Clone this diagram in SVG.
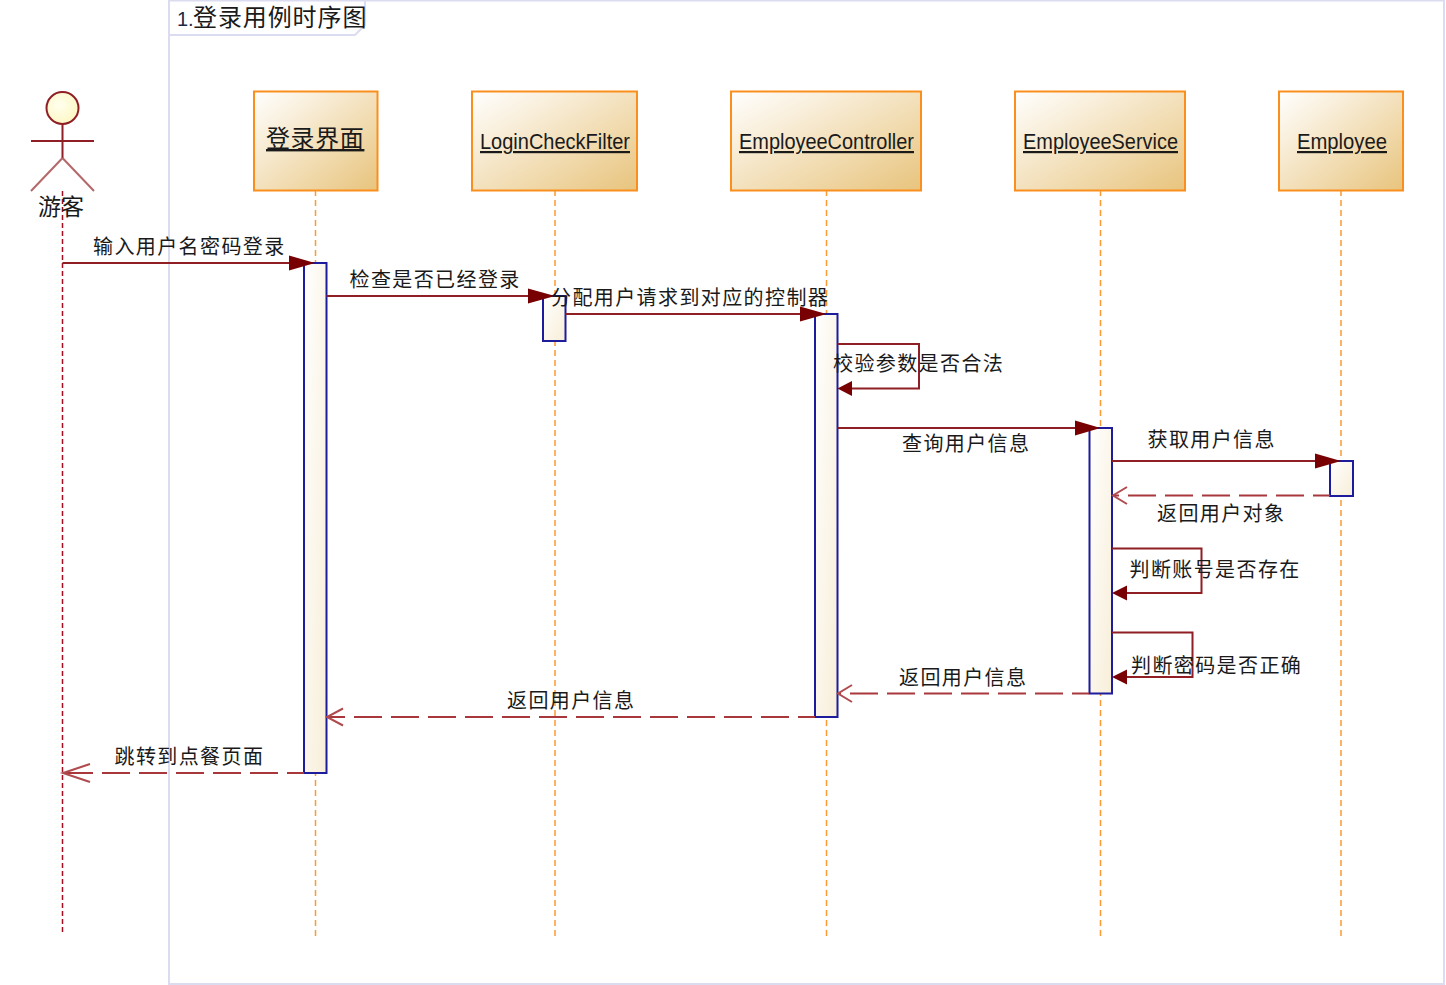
<svg xmlns="http://www.w3.org/2000/svg" width="1446" height="985" viewBox="0 0 1446 985">
<style>
text{font-family:"Noto Sans CJK SC","Liberation Sans",sans-serif;fill:#1a1a1a}
.m{font-size:20px;letter-spacing:1.4px}
.cls{font-size:24px;letter-spacing:.6px;text-decoration:underline}
.lat{font-family:"Liberation Sans",sans-serif;font-size:22px;text-decoration:underline}
.box{fill:url(#g);stroke:#fb8f1e;stroke-width:2}
.life{stroke:#fd9a33;stroke-width:1.5;stroke-dasharray:6 4;fill:none}
.act{fill:url(#a);stroke:#1c1c9c;stroke-width:2}
.msg{stroke:#8f1f24;stroke-width:2;fill:none}
.ret{stroke:#a8383c;stroke-width:2;fill:none;stroke-dasharray:28 9;stroke-dashoffset:11}
.open{stroke:#b04a4e;stroke-width:2;fill:none}
.head{fill:#780003;stroke:none}
</style>
<defs>
<linearGradient id="g" x1="0" y1="0" x2="1" y2="1"><stop offset="0" stop-color="#ffffff"/><stop offset="1" stop-color="#e8c47d"/></linearGradient>
<linearGradient id="a" x1="0" y1="0" x2="1" y2="1"><stop offset="0" stop-color="#ffffff"/><stop offset="1" stop-color="#f8eed8"/></linearGradient>
<radialGradient id="h" cx=".4" cy=".4" r=".7"><stop offset="0" stop-color="#ffffee"/><stop offset="1" stop-color="#fdf6bf"/></radialGradient>
</defs>
<g id="frame">
<path d="M169 985V0.500H1444V984H169" fill="none" stroke="#dcdcf0" stroke-width="2"/>
<path d="M169 35H355L365 25V0" fill="none" stroke="#dcdcf0" stroke-width="2"/>
<text x="177" y="26" style="font-family:'Liberation Sans',sans-serif;font-size:20px;fill:#1a2a44">1.</text>
<text x="193" y="26" style="font-size:24px;letter-spacing:.9px">登录用例时序图</text>
</g>
<g id="actor">
<circle cx="62.500" cy="108" r="16" fill="url(#h)" stroke="#8f1f24" stroke-width="2"/>
<path d="M62.500 124V158M31 141H94" fill="none" stroke="#8f1f24" stroke-width="2"/>
<path d="M62.500 158L31 191M62.500 158L94 191" fill="none" stroke="#b4686a" stroke-width="2"/>
<path d="M62.500 191V935" fill="none" stroke="#a01020" stroke-width="1.500" stroke-dasharray="5 3"/>
<text x="38" y="215" style="font-size:23px">游客</text>
</g>
<g id="node-login">
<path class="life" d="M315.500 190V936"/>
<rect class="box" x="254" y="91.500" width="123.500" height="99"/>
<text class="cls" x="266" y="147">登录界面</text>
<rect class="act" x="304" y="263" width="22.500" height="510"/>
</g>
<g id="node-filter">
<path class="life" d="M555 190V936"/>
<rect class="box" x="472" y="91.500" width="165" height="99"/>
<text class="lat" x="480" y="149" textLength="150" lengthAdjust="spacingAndGlyphs">LoginCheckFilter</text>
<rect class="act" x="543" y="296" width="22.500" height="45"/>
</g>
<g id="node-controller">
<path class="life" d="M826.500 190V936"/>
<rect class="box" x="731" y="91.500" width="190" height="99"/>
<text class="lat" x="739" y="149" textLength="175" lengthAdjust="spacingAndGlyphs">EmployeeController</text>
<rect class="act" x="815" y="314" width="22.500" height="403"/>
</g>
<g id="node-service">
<path class="life" d="M1100.500 190V936"/>
<rect class="box" x="1015" y="91.500" width="170" height="99"/>
<text class="lat" x="1023" y="149" textLength="155" lengthAdjust="spacingAndGlyphs">EmployeeService</text>
<rect class="act" x="1089.500" y="428" width="22.500" height="265.500"/>
</g>
<g id="node-employee">
<path class="life" d="M1341 190V936"/>
<rect class="box" x="1279" y="91.500" width="124" height="99"/>
<text class="lat" x="1297" y="149" textLength="90" lengthAdjust="spacingAndGlyphs">Employee</text>
<rect class="act" x="1330" y="461" width="23" height="35"/>
</g>
<g id="connectors">
<path class="msg" d="M62.500 263H290"/><path class="head" d="M289 255.500L315 263L289 270.500Z"/>
<path class="msg" d="M326.500 296H530"/><path class="head" d="M528 288.500L555 296L528 303.500Z"/>
<path class="msg" d="M565.500 314H802"/><path class="head" d="M800 306.500L826.500 314L800 321.500Z"/>
<path class="msg" d="M837.500 344H919V388.500H850"/><path class="head" d="M837.500 388.500L852 381V396Z"/>
<path class="msg" d="M837.500 428H1077"/><path class="head" d="M1075 420.500L1100.500 428L1075 435.500Z"/>
<path class="msg" d="M1112 461H1317"/><path class="head" d="M1315 453.500L1341 461L1315 468.500Z"/>
<path class="ret" d="M1330 495.500H1113"/><path class="open" d="M1127 487L1113 495.500L1127 504"/>
<path class="msg" d="M1112 548.500H1201.500V593H1125"/><path class="head" d="M1112 593L1127 585.500V600.500Z"/>
<path class="msg" d="M1112 632.500H1192.500V677H1125"/><path class="head" d="M1112 677L1127 669.500V684.500Z"/>
<path class="ret" d="M1089 693.500H838"/><path class="open" d="M852 685L838 693.500L852 702"/>
<path class="ret" d="M815 717H327"/><path class="open" d="M343 708.500L327 717L343 725.500"/>
<path class="ret" d="M304 773H63"/><path class="open" d="M90 764L63 773L90 782"/>
</g>
<g id="labels">
<text class="m" x="93" y="254">输入用户名密码登录</text>
<text class="m" x="349.500" y="287">检查是否已经登录</text>
<text class="m" x="551" y="305">分配用户请求到对应的控制器</text>
<text class="m" x="833" y="371">校验参数是否合法</text>
<text class="m" x="902" y="451">查询用户信息</text>
<text class="m" x="1147.500" y="447">获取用户信息</text>
<text class="m" x="1157" y="521">返回用户对象</text>
<text class="m" x="1129.500" y="577">判断账号是否存在</text>
<text class="m" x="1131" y="673">判断密码是否正确</text>
<text class="m" x="899" y="685">返回用户信息</text>
<text class="m" x="507" y="708">返回用户信息</text>
<text class="m" x="114.500" y="764">跳转到点餐页面</text>
</g>
</svg>
